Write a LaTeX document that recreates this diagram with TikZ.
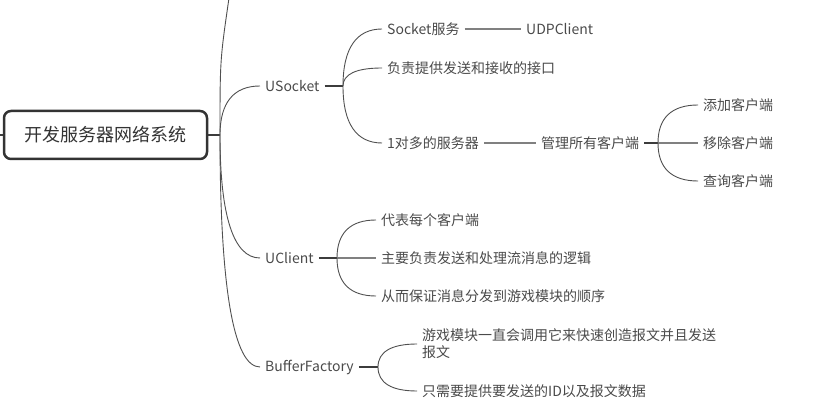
\documentclass[tikz,border=0pt]{standalone}
\usepackage{fontspec}
\usetikzlibrary{calc}
\setmainfont{Noto Sans CJK SC}
\definecolor{inkgray}{HTML}{4A4A4A}
\definecolor{boxgray}{HTML}{333333}
\definecolor{linegray}{HTML}{505050}
\definecolor{stubgray}{HTML}{3C3C3C}
\definecolor{bargray}{HTML}{808080}
\begin{document}
\begin{tikzpicture}[x=1pt, y=-1pt,
    topic/.style={draw=boxgray, line width=2.5pt, rounded corners=7pt, fill=white,
      minimum width=203pt, minimum height=48pt, font=\fontsize{18}{20}\selectfont, text=boxgray},
    item/.style={anchor=west, inner xsep=5pt, inner ysep=2pt,
      font=\fontsize{14}{17}\selectfont, text=inkgray},
    link/.style={draw=linegray, line width=0.9pt},
    curved/.style={to path={.. controls ($(\tikztostart)!.66!(\tikztostart |- \tikztotarget)$)
      and ($(\tikztotarget)!.66!(\tikztostart |- \tikztotarget)$) .. (\tikztotarget)}},
    stub/.style={draw=stubgray, line width=2.2pt},
    bar/.style={draw=bargray, line width=1.6pt}]
    \useasboundingbox (0,0) rectangle (821,419);
    % Tema central
    \node[topic] (root) at (105.5,135) {开发服务器网络系统};
    % Ramas principales
    \node[item] (usocket) at (260,86) {USocket};
    \node[item] (uclient) at (260,258) {UClient};
    \node[item] (buffac) at (260,367) {BufferFactory};
    % USocket
    \node[item] (sockserv) at (382,29) {Socket服务};
    \node[item] (udp) at (521,29) {UDPClient};
    \node[item] (iface) at (382,68) {负责提供发送和接收的接口};
    \node[item] (onemany) at (382,143) {1对多的服务器};
    \node[item] (manage) at (536,143) {管理所有客户端};
    \node[item] (addc) at (698,105) {添加客户端};
    \node[item] (delc) at (698,143) {移除客户端};
    \node[item] (findc) at (698,181) {查询客户端};
    % UClient
    \node[item] (eachc) at (376,220) {代表每个客户端};
    \node[item] (logic) at (376,258) {主要负责发送和处理流消息的逻辑};
    \node[item] (order) at (376,296) {从而保证消息分发到游戏模块的顺序};
    % BufferFactory
    \node[item, align=left] (create) at (417,344) {游戏模块一直会调用它来快速创造报文并且发送\\报文};
    \node[item] (onlyid) at (417,391) {只需要提供要发送的ID以及报文数据};
    % Puntos de union
    \coordinate (lstub) at (0,135);
    \coordinate (j0) at (220,135);
    \coordinate (up) at (229,-2);
    \coordinate (j1) at (343,86);
    \coordinate (j2) at (658,143);
    \coordinate (j3) at (337,258);
    \coordinate (j4) at (378,367);
    % Enlaces
    \draw[stub] (lstub) -- (root.west);
    \draw[stub] (root.east) -- (j0);
    \draw[link] (j0) .. controls (220,60) .. (up);
    \draw[link, curved] (j0) to (usocket.west);
    \draw[link, curved] (j0) to (uclient.west);
    \draw[link, curved] (j0) to (buffac.west);
    \draw[stub] (usocket.east) -- (j1);
    \draw[link, curved] (j1) to (sockserv.west);
    \draw[link, curved] (j1) to (iface.west);
    \draw[link, curved] (j1) to (onemany.west);
    \draw[bar] (sockserv) -- (udp);
    \draw[bar] (onemany) -- (manage);
    \draw[stub] (manage.east) -- (j2);
    \draw[link, curved] (j2) to (addc.west);
    \draw[bar] (j2) -- (delc.west);
    \draw[link, curved] (j2) to (findc.west);
    \draw[stub] (uclient.east) -- (j3);
    \draw[link, curved] (j3) to (eachc.west);
    \draw[bar] (j3) -- (logic.west);
    \draw[link, curved] (j3) to (order.west);
    \draw[stub] (buffac.east) -- (j4);
    \draw[link, curved] (j4) to (create.west);
    \draw[link, curved] (j4) to (onlyid.west);
\end{tikzpicture}
\end{document}
